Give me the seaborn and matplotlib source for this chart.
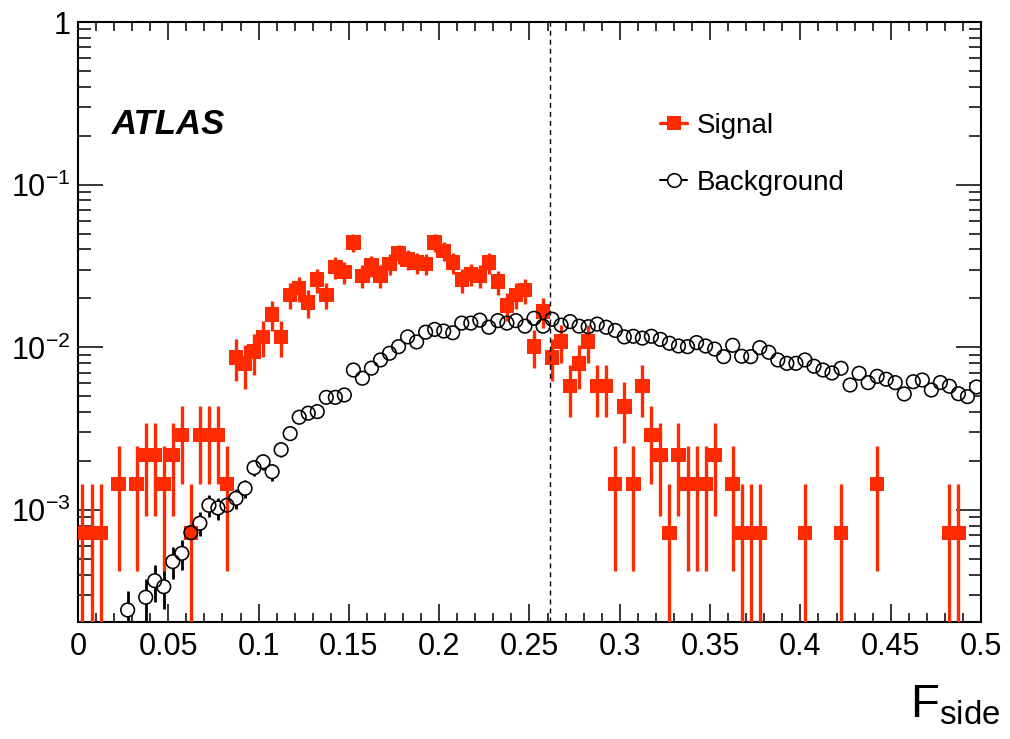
import numpy as np
import pandas as pd
import matplotlib
matplotlib.use("Agg")
import matplotlib.pyplot as plt
import seaborn as sns
from matplotlib.lines import Line2D
from matplotlib.ticker import FixedLocator, FixedFormatter, LogLocator, NullFormatter, MultipleLocator

# ---------------- data ----------------
bin_edges = np.linspace(0.0, 0.5, 101)

# signal: number of entries per bin (each entry has weight signal_weight)
signal_counts = [
    1, 1, 1, 0, 2, 0, 2, 3, 3, 2,
    3, 4, 1, 4, 4, 4, 2, 12, 11, 13,
    16, 22, 16, 29, 32, 26, 36, 29, 43, 40,
    61, 38, 44, 38, 45, 52, 48, 46, 45, 61,
    54, 46, 36, 39, 38, 46, 35, 25, 29, 31,
    14, 23, 12, 15, 8, 11, 15, 8, 8, 2,
    6, 2, 8, 4, 3, 1, 3, 2, 2, 2,
    3, 0, 2, 1, 1, 1, 0, 0, 0, 0,
    1, 0, 0, 0, 1, 0, 0, 0, 2, 0,
    0, 0, 0, 0, 0, 0, 1, 1, 0, 0,
]
signal_weight = 7.24e-4

nan = np.nan
background = [
    nan, nan, nan, nan, nan, 2.43e-4, nan, 2.91e-4, 3.68e-4, 3.38e-4,
    4.82e-4, 5.42e-4, 7.26e-4, 8.3e-4, 1.07e-3, 1.03e-3, 1.07e-3, 1.18e-3, 1.36e-3, 1.82e-3,
    1.98e-3, 1.72e-3, 2.35e-3, 2.95e-3, 3.72e-3, 3.94e-3, 4.03e-3, 4.93e-3, 4.93e-3, 5.1e-3,
    7.26e-3, 6.46e-3, 7.45e-3, 8.37e-3, 9.2e-3, 1.01e-2, 1.16e-2, 1.08e-2, 1.24e-2, 1.29e-2,
    1.26e-2, 1.23e-2, 1.41e-2, 1.41e-2, 1.47e-2, 1.33e-2, 1.46e-2, 1.41e-2, 1.46e-2, 1.35e-2,
    1.51e-2, 1.35e-2, 1.49e-2, 1.37e-2, 1.44e-2, 1.35e-2, 1.34e-2, 1.39e-2, 1.33e-2, 1.27e-2,
    1.16e-2, 1.17e-2, 1.14e-2, 1.17e-2, 1.12e-2, 1.06e-2, 1.02e-2, 1.01e-2, 1.07e-2, 1.02e-2,
    9.77e-3, 8.77e-3, 1.03e-2, 8.82e-3, 8.77e-3, 9.96e-3, 9.33e-3, 8.37e-3, 7.98e-3, 7.98e-3,
    8.37e-3, 7.66e-3, 7.26e-3, 6.96e-3, 7.44e-3, 5.87e-3, 6.93e-3, 6.07e-3, 6.64e-3, 6.37e-3,
    6.07e-3, 5.17e-3, 6.15e-3, 6.3e-3, 5.47e-3, 6.08e-3, 5.77e-3, 5.19e-3, 4.98e-3, 5.71e-3,
]
background_weight = 2.4e-5   # per-entry weight used for the statistical error

x_ticks = [0.0, 0.05, 0.1, 0.15, 0.2, 0.25, 0.3, 0.35, 0.4, 0.45, 0.5]
x_tick_labels = ["0", "0.05", "0.1", "0.15", "0.2", "0.25", "0.3", "0.35", "0.4", "0.45", "0.5"]
y_ticks = [1e-3, 1e-2, 1e-1, 1.0]
y_tick_labels = [r"$\mathregular{10^{-3}}$", r"$\mathregular{10^{-2}}$", r"$\mathregular{10^{-1}}$", "1"]
cut_value = 0.2615
legend_labels = ["Signal", "Background"]
x_label = r"$\mathregular{F_{side}}$"

RED = "#ff2a00"

# ---------------- build frames ----------------
centers = 0.5 * (bin_edges[:-1] + bin_edges[1:])
cnt = np.asarray(signal_counts, dtype=float)
sig = pd.DataFrame({
    "x": centers,
    "y": np.where(cnt > 0, cnt * signal_weight, np.nan),
    "err": np.sqrt(cnt) * signal_weight,
}).dropna()
bkg = pd.DataFrame({"x": centers, "y": np.asarray(background, dtype=float)}).dropna()
bkg["err"] = np.sqrt(bkg["y"] * background_weight)

# ---------------- style ----------------
sns.set_theme(style="ticks")
plt.rcParams["font.family"] = ["Liberation Sans", "DejaVu Sans"]
plt.rcParams["mathtext.fontset"] = "custom"
plt.rcParams["mathtext.rm"] = "Liberation Sans"
plt.rcParams["mathtext.it"] = "Liberation Sans:italic"
plt.rcParams["mathtext.bf"] = "Liberation Sans:bold"
for key in ["text.color", "axes.labelcolor", "xtick.color", "ytick.color",
            "xtick.labelcolor", "ytick.labelcolor", "axes.edgecolor"]:
    plt.rcParams[key] = "black"

fig = plt.figure(figsize=(10.1, 7.39), dpi=100)
ax = fig.add_axes([0.0772, 0.1583, 0.8941, 0.8119])
ax.set_yscale("log")

CIRC_S = 96
SQ_S = 108

# background error bars
ax.errorbar(bkg["x"], bkg["y"],
            yerr=[np.minimum(bkg["err"], bkg["y"] - 1e-7), bkg["err"]],
            fmt="none", ecolor="black", elinewidth=2.0, capsize=0, zorder=1)
# white interiors of the circles
sns.scatterplot(data=bkg, x="x", y="y", marker="o", s=CIRC_S, color="white",
                edgecolor="none", linewidth=0, ax=ax, zorder=2, legend=False)
# signal
ax.errorbar(sig["x"], sig["y"],
            yerr=[np.minimum(sig["err"], sig["y"] - 1e-7), sig["err"]],
            fmt="none", ecolor=RED, elinewidth=2.4, capsize=0, zorder=3)
sns.scatterplot(data=sig, x="x", y="y", marker="s", s=SQ_S, color=RED,
                edgecolor="none", linewidth=0, ax=ax, zorder=3, legend=False)
# background circle outlines
sns.scatterplot(data=bkg, x="x", y="y", marker="o", s=CIRC_S, facecolor="none",
                edgecolor="black", linewidth=1.15, ax=ax, zorder=4, legend=False)

ax.axvline(cut_value, color="black", linestyle=(0, (3.6, 2.9)), linewidth=1.0, zorder=5)

ax.set_xlim(0.0, 0.5)
ax.set_ylim(2.05e-4, 1.0)

ax.xaxis.set_major_locator(FixedLocator(x_ticks))
ax.xaxis.set_major_formatter(FixedFormatter(x_tick_labels))
ax.xaxis.set_minor_locator(MultipleLocator(0.01))
ax.yaxis.set_major_locator(FixedLocator(y_ticks))
ax.yaxis.set_major_formatter(FixedFormatter(y_tick_labels))
ax.yaxis.set_minor_locator(LogLocator(base=10, subs=np.arange(2, 10), numticks=20))
ax.yaxis.set_minor_formatter(NullFormatter())

ax.tick_params(which="both", direction="in", top=True, right=True, color="black",
               labelcolor="black", width=1.1)
ax.tick_params(axis="x", which="major", length=13, labelsize=22, pad=7)
ax.tick_params(axis="x", which="minor", length=6.5)
ax.tick_params(axis="y", which="major", length=18, labelsize=22, pad=5)
ax.tick_params(axis="y", which="minor", length=9)
for sp in ax.spines.values():
    sp.set_linewidth(1.5)
    sp.set_color("black")

ax.set_ylabel("")
ax.set_xlabel(x_label, fontsize=34, ha="right", color="black")
ax.xaxis.set_label_coords(1.021, -0.103)

ax.text(0.0377, 0.8133, "ATLAS", transform=ax.transAxes, fontsize=25, color="black",
        fontweight="bold", fontstyle="italic", va="baseline", ha="left")

handles = [
    Line2D([], [], color=RED, marker="s", markersize=10.4, linewidth=2.4, markeredgewidth=0),
    Line2D([], [], color="black", marker="o", markersize=9.8, markerfacecolor="white",
           markeredgecolor="black", markeredgewidth=1.15, linewidth=1.5),
]
leg = ax.legend(handles, legend_labels, loc="upper left", bbox_to_anchor=(0.645, 0.848),
                frameon=False, fontsize=20, handlelength=0.95, handletextpad=0.35,
                labelspacing=1.1, borderpad=0, borderaxespad=0)
for t in leg.get_texts():
    t.set_color("black")

fig.savefig("out.png", dpi=100)
